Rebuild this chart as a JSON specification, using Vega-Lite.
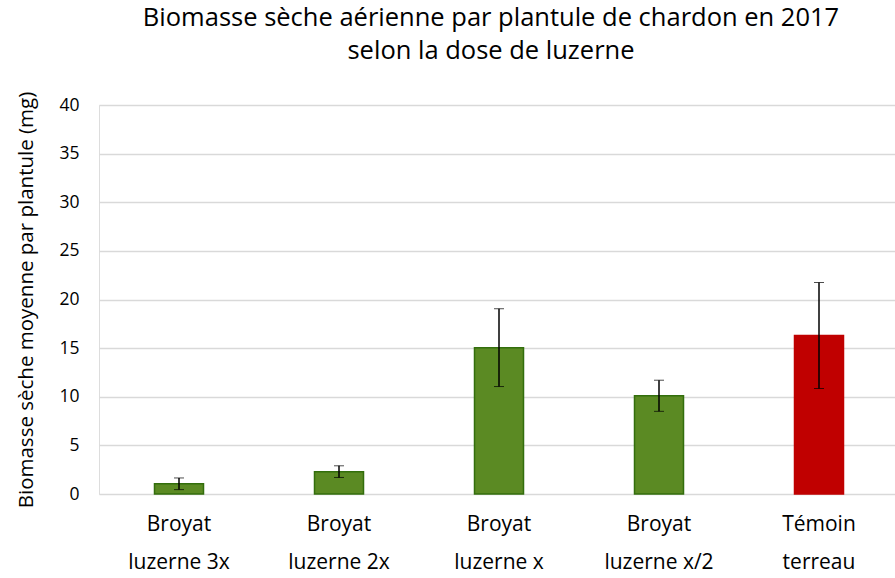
{
  "$schema": "https://vega.github.io/schema/vega-lite/v6.json",
  "width": 800,
  "height": 389,
  "autosize": "none",
  "padding": {"left": 99, "top": 105, "right": 0, "bottom": 84},
  "background": "white",
  "title": {
    "text": ["Biomasse sèche aérienne par plantule de chardon en 2017", "selon la dose de luzerne"],
    "font": "Open Sans",
    "fontSize": 25.5,
    "fontWeight": "normal",
    "lineHeight": 33,
    "color": "#000000",
    "anchor": "middle",
    "frame": "group",
    "dx": -8,
    "offset": 27
  },
  "data": {
    "values": [
      {"traitement": "Broyat luzerne 3x", "biomasse": 1.05, "err": 0.6, "groupe": "luzerne"},
      {"traitement": "Broyat luzerne 2x", "biomasse": 2.3, "err": 0.6, "groupe": "luzerne"},
      {"traitement": "Broyat luzerne x", "biomasse": 15.05, "err": 4.0, "groupe": "luzerne"},
      {"traitement": "Broyat luzerne x/2", "biomasse": 10.1, "err": 1.6, "groupe": "luzerne"},
      {"traitement": "Témoin terreau", "biomasse": 16.3, "err": 5.45, "groupe": "témoin"}
    ]
  },
  "transform": [
    {"calculate": "datum.biomasse - datum.err", "as": "lo"},
    {"calculate": "datum.biomasse + datum.err", "as": "hi"}
  ],
  "encoding": {
    "x": {
      "field": "traitement",
      "type": "nominal",
      "sort": null,
      "scale": {"paddingInner": 0, "paddingOuter": 0},
      "axis": {
        "title": null,
        "domain": false,
        "ticks": false,
        "grid": false,
        "labelAngle": 0,
        "labelFont": "Open Sans",
        "labelFontSize": 21,
        "labelColor": "#000000",
        "labelLineHeight": 38,
        "labelPadding": 19,
        "labelExpr": "[substring(datum.label, 0, indexof(datum.label, ' ')), substring(datum.label, indexof(datum.label, ' ') + 1)]"
      }
    }
  },
  "layer": [
    {
      "mark": {"type": "bar", "size": 49, "strokeWidth": 1.5},
      "encoding": {
        "y": {
          "field": "biomasse",
          "type": "quantitative",
          "title": "Biomasse sèche moyenne par plantule (mg)",
          "scale": {"domain": [0, 40]},
          "axis": {
            "titleFont": "Open Sans",
            "titleFontSize": 20.5,
            "titleFontWeight": "normal",
            "titleColor": "#000000",
            "titlePadding": 22,
            "values": [0, 5, 10, 15, 20, 25, 30, 35, 40],
            "domain": false,
            "ticks": false,
            "gridColor": "#d9d9d9",
            "gridWidth": 1.5,
            "labelFont": "Open Sans",
            "labelFontSize": 17.5,
            "labelColor": "#000000",
            "labelPadding": 20
          }
        },
        "fill": {
          "field": "groupe",
          "type": "nominal",
          "scale": {"domain": ["luzerne", "témoin"], "range": ["#5b8a23", "#c00000"]},
          "legend": null
        },
        "stroke": {
          "field": "groupe",
          "type": "nominal",
          "scale": {"domain": ["luzerne", "témoin"], "range": ["#336e0c", "#c00000"]},
          "legend": null
        }
      }
    },
    {
      "mark": {"type": "errorbar", "ticks": {"size": 10, "color": "#000000", "strokeWidth": 1.5}, "rule": {"color": "#000000", "strokeWidth": 1.5}},
      "encoding": {
        "y": {"field": "lo", "type": "quantitative", "title": "Biomasse sèche moyenne par plantule (mg)"},
        "y2": {"field": "hi"}
      }
    }
  ]
}
